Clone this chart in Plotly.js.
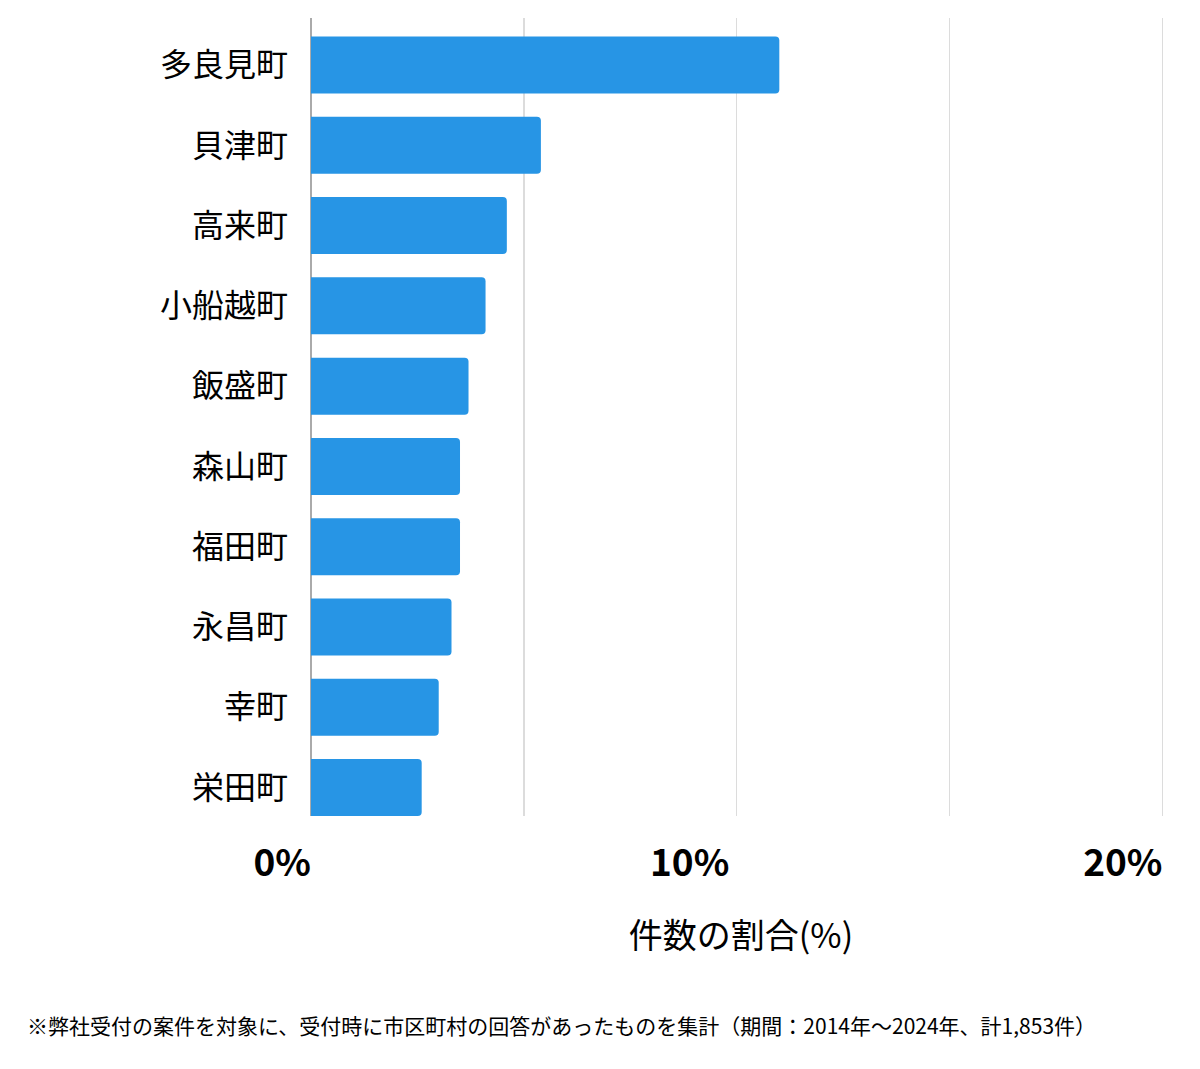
<!DOCTYPE html>
<html><head><meta charset="utf-8">
<script src="https://cdn.plot.ly/plotly-3.0.1.min.js"></script>
<style>body{margin:0;background:#fff}#chart{width:1200px;height:1069px}</style>
</head><body><div id="chart"></div>
<script>
const categories = ["多良見町","貝津町","高来町","小船越町","飯盛町","森山町","福田町","永昌町","幸町","栄田町"];
const shares = [11.0, 5.4, 4.6, 4.1, 3.7, 3.5, 3.5, 3.3, 3.0, 2.6];
const tickValues = [0, 10, 20];
const tickLabels = ["0%", "10%\u2009", "20%"];
const axisTitle = "件数の割合(%)";
const footnote = "※弊社受付の案件を対象に、受付時に市区町村の回答があったものを集計（期間：2014年～2024年、計1,853件）";

const cjk = '"Noto Sans CJK JP", "Noto Sans", sans-serif';
const trace = {
  type: 'bar', orientation: 'h',
  x: shares, y: categories,
  marker: {color: '#2795e5'},
  width: 0.71,
  hoverinfo: 'x+y'
};
const layout = {
  width: 1200, height: 1069,
  margin: {l: 311, r: 28.5, t: 18, b: 253},
  paper_bgcolor: '#fff', plot_bgcolor: '#fff',
  barcornerradius: 4,
  showlegend: false,
  font: {family: cjk, color: '#000'},
  xaxis: {
    range: [0, 20.2], autorange: false,
    tickvals: tickValues, ticktext: tickLabels,
    ticklabelposition: 'outside left',
    ticklabelstandoff: 22,
    tickfont: {family: cjk, size: 37, weight: 'bold', color: '#000'},
    showgrid: true, gridcolor: '#dcdcdc', gridwidth: 1.5,
    minor: {dtick: 5, tick0: 0, showgrid: true, gridcolor: '#dcdcdc', gridwidth: 1.5},
    zeroline: true, zerolinecolor: '#aaaaaa', zerolinewidth: 2,
    showline: false, ticks: '',
    title: {text: axisTitle, font: {family: cjk, size: 34, color: '#000'}, standoff: 38}
  },
  yaxis: {
    type: 'category',
    range: [9.355, -0.586], autorange: false,
    tickfont: {family: cjk, size: 32, color: '#000'},
    ticks: '', ticklabelstandoff: 22,
    showgrid: false, zeroline: false, showline: false
  },
  annotations: [{
    text: footnote, xref: 'paper', yref: 'paper',
    x: -0.3325, xanchor: 'left', y: -0.262, yanchor: 'middle',
    showarrow: false,
    font: {family: cjk, size: 21, color: '#000'}
  }]
};
Plotly.newPlot('chart', [trace], layout, {displayModeBar: false, staticPlot: true});
</script>
</body></html>
